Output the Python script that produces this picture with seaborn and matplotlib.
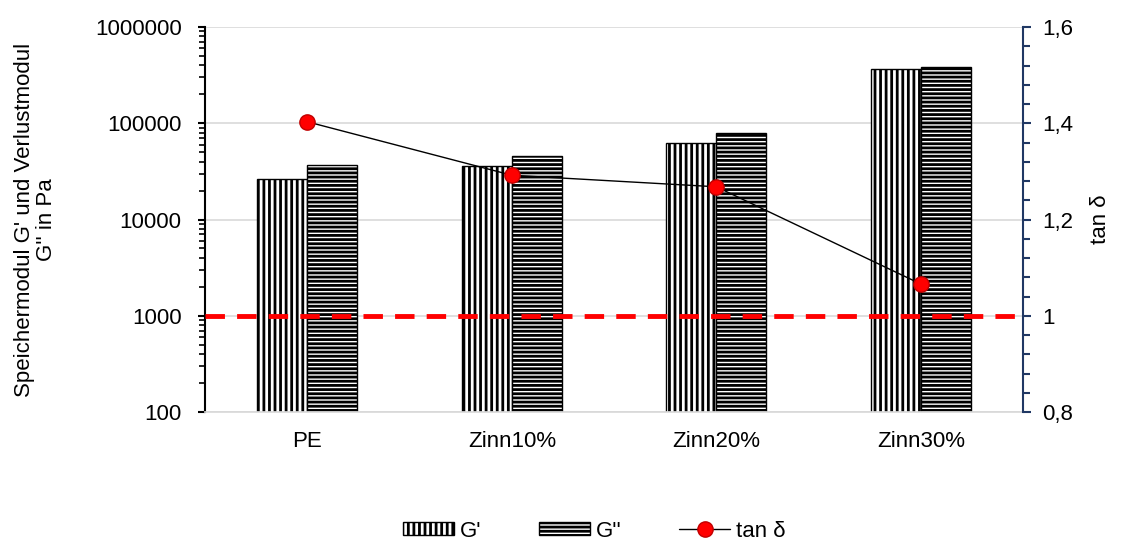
import matplotlib.pyplot as plt
import seaborn as sns
import pandas as pd
import numpy as np
from matplotlib.lines import Line2D
from matplotlib.patches import Patch
from matplotlib.ticker import LogLocator, MultipleLocator, NullFormatter

# Daten
proben = ['PE', 'Zinn10%', 'Zinn20%', 'Zinn30%']
g_speicher = [26300, 36000, 62400, 366000]
g_verlust = [36800, 45700, 79000, 384000]
tan_delta = [1.403, 1.292, 1.268, 1.066]

sns.set_theme(style='white')
plt.rcParams['font.family'] = ['Liberation Sans', 'DejaVu Sans']
plt.rcParams['hatch.linewidth'] = 2.0
plt.rcParams['text.color'] = 'black'
plt.rcParams['axes.labelcolor'] = 'black'
plt.rcParams['xtick.color'] = 'black'
plt.rcParams['ytick.color'] = 'black'

df = pd.DataFrame({
    'Probe': proben * 2,
    'Modul': ["G'"] * 4 + ['G"'] * 4,
    'Wert': g_speicher + g_verlust,
})

fs = 16
fig, ax = plt.subplots(figsize=(11.21, 5.4), dpi=100)
fig.subplots_adjust(left=0.183, right=0.9126, top=0.95, bottom=0.237)

sns.barplot(data=df, x='Probe', y='Wert', hue='Modul', ax=ax, width=0.49,
            gap=0, palette=['white', 'white'], edgecolor='black', linewidth=1,
            legend=False)
ax.set_yscale('log')

# Schraffur
for i, bar in enumerate(ax.patches):
    bar.set_hatch('|||' if i < 4 else '----')

ax.set_ylim(100, 1000000)
ax.set_yticks([100, 1000, 10000, 100000, 1000000])
ax.set_yticklabels(['100', '1000', '10000', '100000', '1000000'], fontsize=fs)
ax.yaxis.set_minor_locator(LogLocator(base=10, subs=np.arange(2, 10)))
ax.yaxis.set_minor_formatter(NullFormatter())
ax.grid(axis='y', which='major', color='#d9d9d9', linewidth=1.2)
ax.set_axisbelow(True)
ax.set_xlabel('')
ax.set_ylabel("Speichermodul G' und Verlustmodul\nG'' in Pa", fontsize=fs,
              labelpad=27, linespacing=1.05)
ax.tick_params(axis='x', labelsize=fs, length=0, pad=14)
ax.tick_params(axis='y', which='major', direction='out', length=5, width=1.5,
               color='black', left=True, pad=12)
ax.tick_params(axis='y', which='minor', direction='out', length=4, width=1.2,
               color='black', left=True)
for s in ['top', 'right']:
    ax.spines[s].set_visible(False)
ax.spines['left'].set_color('black')
ax.spines['left'].set_linewidth(1.5)
ax.spines['bottom'].set_color('#d9d9d9')
ax.set_xlim(-0.5, 3.5)

# tan delta auf zweiter Achse
ax2 = ax.twinx()
sns.lineplot(x=np.arange(len(proben)), y=tan_delta, ax=ax2, color='black',
             linewidth=1, marker='o', markersize=11, markerfacecolor='red',
             markeredgecolor='#c00000', markeredgewidth=1)
ax2.axhline(1.0, color='red', linestyle=(0, (4, 2.5)), linewidth=3.5)
ax2.set_ylim(0.8, 1.6)
ax2.yaxis.set_minor_locator(MultipleLocator(0.04))
ax2.set_yticks([0.8, 1.0, 1.2, 1.4, 1.6])
ax2.set_yticklabels(['0,8', '1', '1,2', '1,4', '1,6'], fontsize=fs)
ax2.set_ylabel('tan δ', fontsize=fs, labelpad=12)
navy = '#203864'
ax2.tick_params(axis='y', which='major', direction='out', length=6, width=1.5, color=navy, pad=8)
ax2.tick_params(axis='y', which='minor', direction='out', length=5, width=1.5, color=navy)
for s in ['top', 'left', 'bottom']:
    ax2.spines[s].set_visible(False)
ax2.spines['right'].set_color(navy)
ax2.spines['right'].set_linewidth(1.5)
ax2.set_xlim(-0.5, 3.5)

# Legende
handles = [
    Patch(facecolor='white', edgecolor='black', hatch='|||', label="G'"),
    Patch(facecolor='white', edgecolor='black', hatch='----', label="G''"),
    Line2D([0], [0], color='black', linewidth=1, marker='o', markersize=11,
           markerfacecolor='red', markeredgecolor='#c00000', label='tan δ'),
]
fig.legend(handles=handles, loc='lower center', ncol=3, frameon=False,
           fontsize=fs, bbox_to_anchor=(0.530, -0.040), columnspacing=2.6,
           handlelength=2.3, handleheight=0.5, handletextpad=0.25)

plt.savefig('out.png', dpi=100)
